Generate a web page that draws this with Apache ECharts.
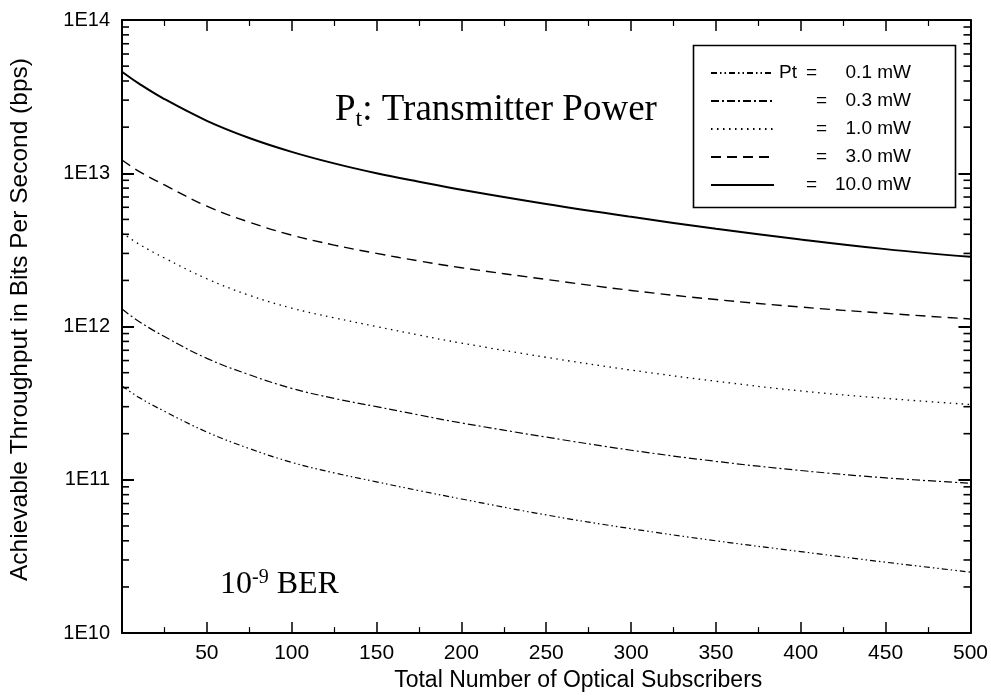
<!DOCTYPE html>
<html>
<head>
<meta charset="utf-8">
<script src="https://cdn.jsdelivr.net/npm/echarts@6/dist/echarts.min.js"></script>
<style>html,body{margin:0;padding:0;background:#fff;}#c{width:991px;height:697px;}</style>
</head>
<body>
<div id="c"></div>
<script>
const subscribers = [0, 10, 25, 50, 75, 100, 125, 150, 175, 200, 250, 300, 350, 400, 450, 500];
const pt01 = [4.1e11, 3.45e11, 2.8e11, 2.05e11, 1.6e11, 1.3e11, 1.11e11, 9.7e10, 8.5e10, 7.5e10, 5.9e10, 4.8e10, 4.0e10, 3.4e10, 2.9e10, 2.5e10];
const pt03 = [1.3e12, 1.08e12, 8.6e11, 6.2e11, 4.85e11, 3.95e11, 3.4e11, 3.0e11, 2.65e11, 2.35e11, 1.9e11, 1.56e11, 1.32e11, 1.15e11, 1.03e11, 9.5e10];
const pt10 = [4.1e12, 3.45e12, 2.8e12, 2.05e12, 1.6e12, 1.32e12, 1.14e12, 1.0e12, 8.8e11, 7.8e11, 6.3e11, 5.2e11, 4.4e11, 3.8e11, 3.4e11, 3.1e11];
const pt30 = [1.22e13, 1.03e13, 8.4e12, 6.1e12, 4.8e12, 3.95e12, 3.4e12, 3.0e12, 2.68e12, 2.42e12, 2.03e12, 1.72e12, 1.5e12, 1.34e12, 1.22e12, 1.12e12];
const pt100 = [4.6e13, 3.85e13, 3.05e13, 2.2e13, 1.7e13, 1.38e13, 1.16e13, 1.0e13, 8.8e12, 7.8e12, 6.3e12, 5.2e12, 4.35e12, 3.7e12, 3.2e12, 2.85e12];
const seriesNames = ['0.1', '0.3', '1.0', '3.0', '10.0'];
const xTicks = [50, 100, 150, 200, 250, 300, 350, 400, 450, 500];
const yTickLabels = ['1E10', '1E11', '1E12', '1E13', '1E14'];
const minorLogTicks = [];
for (let e = 10; e < 14; e++) for (let m = 2; m <= 9; m++) minorLogTicks.push(m * Math.pow(10, e));

const FONT = '"Liberation Sans", Arial, sans-serif';
const SERIF = '"Liberation Serif", "Times New Roman", serif';
const pair = (ys) => subscribers.map((x, i) => [x, ys[i]]);
const dashes = [[6, 3, 1.5, 3, 1.5, 3], [8, 3, 2, 3], [1.5, 4.5], [10, 6], 'solid'];
const widths = [1.2, 1.2, 1.3, 1.4, 2];
const datas = [pt01, pt03, pt10, pt30, pt100];

const chart = echarts.init(document.getElementById('c'), null, {renderer: 'canvas'});
const lineSeries = datas.map((d, i) => ({
  name: seriesNames[i],
  type: 'line',
  smooth: 0.4,
  symbol: 'none',
  xAxisIndex: 0, yAxisIndex: 0,
  lineStyle: {color: '#000', width: widths[i], type: dashes[i]},
  itemStyle: {color: '#000'},
  data: pair(d)
}));

const lineAxis = {show: true, onZero: false, lineStyle: {color: '#000', width: 2}};
const xTick = {show: true, inside: true, length: 11, lineStyle: {color: '#000', width: 1.5}};
const xMinor = {show: true, splitNumber: 2, length: 6, lineStyle: {color: '#000', width: 1.2}};
const yTick = {show: true, inside: true, length: 12, lineStyle: {color: '#000', width: 2}};

const tok = (w, a) => ({width: w, align: a, fontFamily: FONT, fontSize: 19, color: '#000'});
const rich = {
  p1: tok(27, 'left'), p2: tok(37, 'left'),
  e: tok(13, 'left'),
  v1: tok(92, 'right'), v2: tok(82, 'right')
};

chart.setOption({
  animation: false,
  backgroundColor: '#fff',
  grid: {left: 122, right: 18, top: 20, bottom: 49},
  xAxis: [{
    type: 'value', min: 0, max: 500, interval: 50, position: 'bottom',
    axisLine: lineAxis, axisTick: xTick, minorTick: xMinor, splitLine: {show: false},
    axisLabel: {color: '#000', fontFamily: FONT, fontSize: 21, margin: 10,
      formatter: v => xTicks.indexOf(v) >= 0 ? String(v) : ''},
    name: 'Total Number of Optical Subscribers', nameLocation: 'middle', nameGap: 31,
    nameTextStyle: {color: '#000', fontFamily: FONT, fontSize: 23, padding: [0, 0, 0, 64]}
  }, {
    type: 'value', min: 0, max: 500, interval: 50, position: 'top',
    axisLine: lineAxis, axisTick: xTick, minorTick: xMinor, splitLine: {show: false},
    axisLabel: {show: false}
  }],
  yAxis: [{
    type: 'log', logBase: 10, min: 1e10, max: 1e14, position: 'left',
    axisLine: lineAxis, axisTick: yTick, splitLine: {show: false},
    axisLabel: {color: '#000', fontFamily: FONT, fontSize: 20, margin: 12,
      formatter: v => yTickLabels[Math.round(Math.log10(v)) - 10]},
    name: 'Achievable Throughput in Bits Per Second (bps)', nameLocation: 'middle', nameGap: 89,
    nameTextStyle: {color: '#000', fontFamily: FONT, fontSize: 24.5, padding: [0, 0, 0, 14]}
  }, {
    type: 'log', logBase: 10, min: 1e10, max: 1e14, position: 'right',
    axisLine: lineAxis, axisTick: yTick, splitLine: {show: false},
    axisLabel: {show: false}
  }],
  legend: {
    show: true,
    orient: 'vertical',
    left: 705, top: 58,
    itemWidth: 63, itemHeight: 20, itemGap: 8,
    data: seriesNames,
    itemStyle: {opacity: 0},
    textStyle: {fontFamily: FONT, fontSize: 19, color: '#000', lineHeight: 20, rich: rich},
    formatter: name => name === '0.1' ? '{p1|Pt}{e|=}{v1|' + name + ' mW}'
      : name === '10.0' ? '{p1|}{e|=}{v1|' + name + ' mW}'
      : '{p2|}{e|=}{v2|' + name + ' mW}'
  },
  graphic: [{
    type: 'rect', left: 691, top: 43,
    shape: {width: 262, height: 162},
    style: {fill: 'none', stroke: '#000', lineWidth: 1.6}, z: 10
  }, {
    type: 'text', left: 335, top: 92, z: 10,
    style: {
      text: '{a|P}{s|t}{a|: Transmitter Power}',
      rich: {
        a: {fontFamily: SERIF, fontSize: 37, fill: '#000', color: '#000'},
        s: {fontFamily: SERIF, fontSize: 24, fill: '#000', color: '#000', padding: [18, 0, 0, 0]}
      }
    }
  }, {
    type: 'text', left: 220, top: 568, z: 10,
    style: {
      text: '{s|10}{u|-9}{a| BER}',
      rich: {
        a: {fontFamily: SERIF, fontSize: 32, fill: '#000', color: '#000'},
        s: {fontFamily: SERIF, fontSize: 32, fill: '#000', color: '#000'},
        u: {fontFamily: SERIF, fontSize: 20, fill: '#000', color: '#000', padding: [0, 0, 14, 0]}
      }
    }
  }],
  series: lineSeries.concat([{
    type: 'custom',
    name: 'minorTicks',
    xAxisIndex: 0, yAxisIndex: 0,
    silent: true,
    clip: false,
    data: minorLogTicks.map(v => [0, v]),
    renderItem: function (params, api) {
      const y = api.coord([0, api.value(1)])[1];
      const cs = params.coordSys;
      return {
        type: 'group',
        children: [
          {type: 'line', shape: {x1: cs.x, y1: y, x2: cs.x + 7, y2: y}, style: {stroke: '#000', lineWidth: 1.6}},
          {type: 'line', shape: {x1: cs.x + cs.width, y1: y, x2: cs.x + cs.width - 7, y2: y}, style: {stroke: '#000', lineWidth: 1.6}}
        ]
      };
    }
  }])
});
</script>
</body>
</html>
